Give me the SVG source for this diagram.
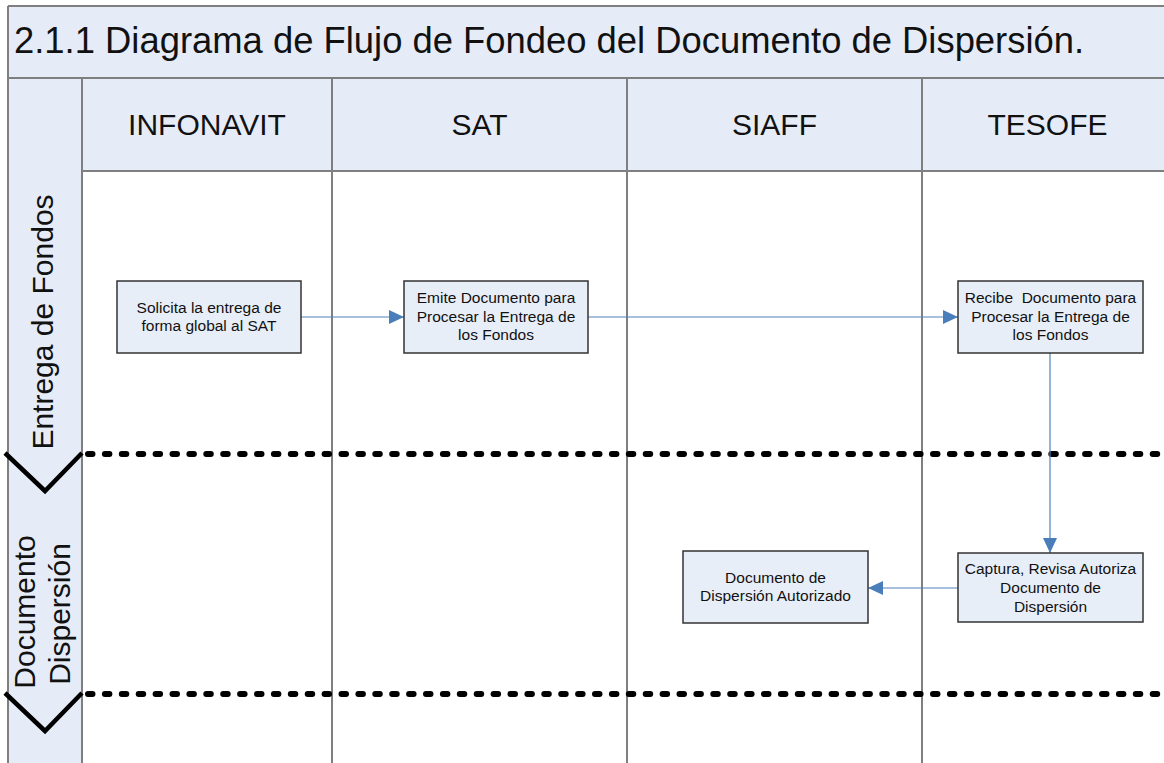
<svg xmlns="http://www.w3.org/2000/svg" width="1164" height="763" viewBox="0 0 1164 763">
<style>
.lane{fill:#E6ECF7;stroke:none}
.grid{stroke:#7F7F7F;stroke-width:2;fill:none}
.box{fill:#E8EEF8;stroke:#333333;stroke-width:1.5}
.bt{font-family:"Liberation Sans",Arial,sans-serif;font-size:15.5px;fill:#111;text-anchor:middle}
.hd{font-family:"Liberation Sans",Arial,sans-serif;font-size:30px;fill:#111;text-anchor:middle}
.ttl{font-family:"Liberation Sans",Arial,sans-serif;font-size:36.4px;fill:#111}
.conn{stroke:#4F81BD;stroke-width:1.2;fill:none;marker-end:url(#ah)}
.dot{stroke:#000;stroke-width:6;stroke-linecap:round;stroke-dasharray:4.5 12.4;fill:none}
.chev{stroke:#000;stroke-width:4.5;fill:none;stroke-linejoin:miter}
</style>
<defs>
<marker id="ah" markerUnits="userSpaceOnUse" markerWidth="16" markerHeight="14" refX="15" refY="7" orient="auto">
<path d="M0,0 L15,7 L0,14 Z" fill="#4A7EBB"/>
</marker>
</defs>
<rect width="1164" height="763" fill="#ffffff"/>
<g id="frame">
<rect class="lane" x="8" y="6" width="1170" height="72"/>
<rect class="lane" x="8" y="78" width="74" height="690"/>
<rect class="lane" x="82" y="78" width="1096" height="93"/>
<line class="grid" x1="8" y1="6" x2="1164" y2="6"/>
<line class="grid" x1="8" y1="6" x2="8" y2="763"/>
<line class="grid" x1="8" y1="78" x2="1164" y2="78"/>
<line class="grid" x1="82" y1="171" x2="1164" y2="171"/>
<line class="grid" x1="82" y1="78" x2="82" y2="763"/>
<line class="grid" x1="332" y1="78" x2="332" y2="763"/>
<line class="grid" x1="627" y1="78" x2="627" y2="763"/>
<line class="grid" x1="922" y1="78" x2="922" y2="763"/>
<text class="ttl" x="14" y="53">2.1.1 Diagrama de Flujo de Fondeo del Documento de Dispersión.</text>
</g>
<g id="headers">
<text class="hd" x="207" y="135">INFONAVIT</text>
<text class="hd" x="479.5" y="135">SAT</text>
<text class="hd" x="774.5" y="135">SIAFF</text>
<text class="hd" x="1047.5" y="135">TESOFE</text>
</g>
<g id="lane-entrega">
<text class="hd" transform="translate(53,322) rotate(-90)" x="0" y="0">Entrega de Fondos</text>
<line class="dot" x1="88" y1="454" x2="1164" y2="454"/>
<polyline class="chev" points="5,453 45,491 82,453"/>
</g>
<g id="lane-documento">
<text class="hd" transform="translate(35,612) rotate(-90)" x="0" y="0">Documento</text>
<text class="hd" transform="translate(70,614) rotate(-90)" x="0" y="0">Dispersión</text>
<line class="dot" x1="88" y1="694" x2="1164" y2="694"/>
<polyline class="chev" points="5,693 45,731 82,693"/>
</g>
<g id="connectors">
<line class="conn" x1="301" y1="317" x2="404" y2="317"/>
<line class="conn" x1="588" y1="317" x2="958" y2="317"/>
<line class="conn" x1="1050" y1="353" x2="1050" y2="553"/>
<line class="conn" x1="958" y1="588" x2="868" y2="588"/>
</g>
<g id="n1">
<rect class="box" x="117" y="281" width="184" height="72"/>
<text class="bt" x="209" y="313">Solicita la entrega de</text>
<text class="bt" x="209" y="331">forma global al SAT</text>
</g>
<g id="n2">
<rect class="box" x="404" y="281" width="184" height="72"/>
<text class="bt" x="496" y="303">Emite Documento para</text>
<text class="bt" x="496" y="322">Procesar la Entrega de</text>
<text class="bt" x="496" y="340">los Fondos</text>
</g>
<g id="n3">
<rect class="box" x="958" y="281" width="185" height="72"/>
<text class="bt" x="1050.5" y="303" xml:space="preserve">Recibe  Documento para</text>
<text class="bt" x="1050.5" y="322">Procesar la Entrega de</text>
<text class="bt" x="1050.5" y="340">los Fondos</text>
</g>
<g id="n4">
<rect class="box" x="958" y="553" width="185" height="69"/>
<text class="bt" x="1050.5" y="574">Captura, Revisa Autoriza</text>
<text class="bt" x="1050.5" y="593">Documento de</text>
<text class="bt" x="1050.5" y="612">Dispersión</text>
</g>
<g id="n5">
<rect class="box" x="683" y="551" width="185" height="72"/>
<text class="bt" x="775.5" y="583">Documento de</text>
<text class="bt" x="775.5" y="601">Dispersión Autorizado</text>
</g>
</svg>
